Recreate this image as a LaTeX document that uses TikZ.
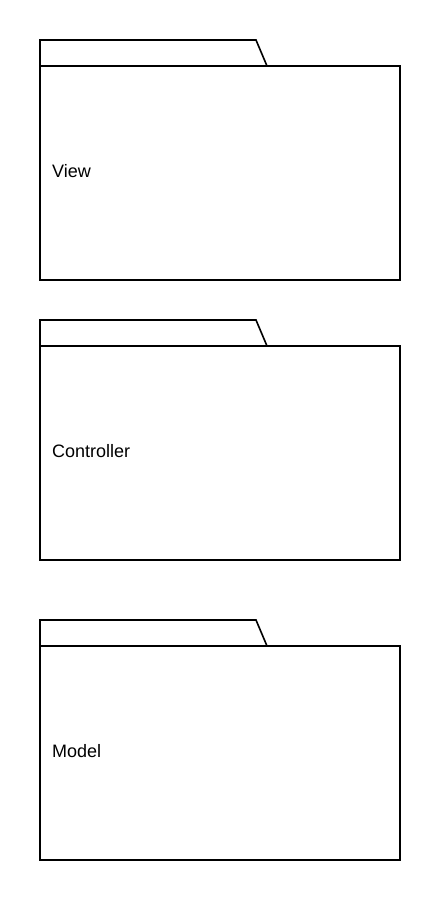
\documentclass[tikz,border=0pt]{standalone}
\usepackage{fontspec}
\setmainfont{Liberation Sans}
\begin{document}
\begin{tikzpicture}[x=1pt,y=-1pt,
  pkgline/.style={draw=black,line width=1.6pt,line join=miter},
  pkglabel/.style={anchor=west,inner sep=0pt,font=\fontsize{18}{21}\selectfont}]
\useasboundingbox (0,0) rectangle (440,900);
\foreach \t/\lab/\nm in {40/View/view,320/Controller/controller,620/Model/model}{
  \draw[pkgline] (40,\t+26) -- (40,\t) -- (256,\t) -- (267,\t+26);
  \coordinate (\nm-nw) at (40,\t+26);
  \coordinate (\nm-se) at (400,\t+240);
  \draw[pkgline] (\nm-nw) rectangle (\nm-se);
  \node[pkglabel] (\nm-label) at (52,\t+131) {\lab};
}
\end{tikzpicture}
\end{document}
